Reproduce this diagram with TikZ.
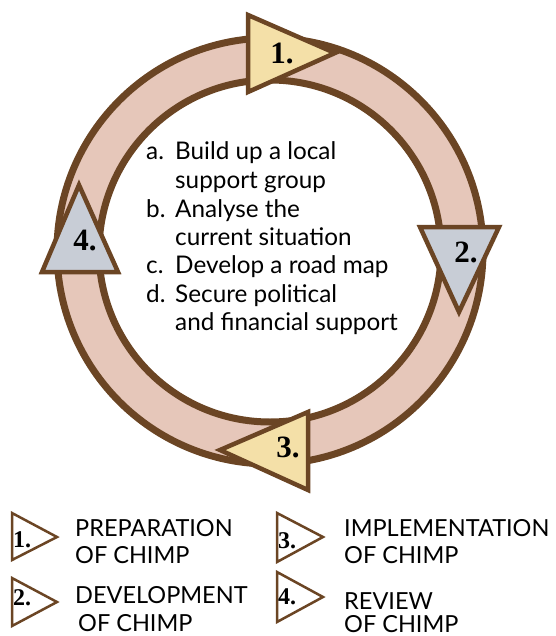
\documentclass[tikz,border=0pt]{standalone}
\usepackage{fontspec}
\setsansfont{Lato}
\renewcommand{\familydefault}{\sfdefault}
\newfontfamily\numfont{Liberation Serif}
\definecolor{ringbrown}{HTML}{6B4524}
\definecolor{ringfill}{HTML}{E6C7BA}
\definecolor{triyellow}{HTML}{F4E0A8}
\definecolor{trigrey}{HTML}{C8CDD6}
\begin{document}
\begin{tikzpicture}[x=1pt,y=-1pt,
  bigtri/.style={draw=ringbrown, line width=4.5pt, line join=miter},
  smalltri/.style={draw=ringbrown, line width=2.5pt, fill=white, line join=miter},
  bignum/.style={font=\numfont\bfseries\fontsize{31}{31}\selectfont, inner sep=0pt},
  smallnum/.style={font=\numfont\bfseries\fontsize{24}{24}\selectfont, inner sep=0pt, anchor=west},
  listtxt/.style={font=\fontsize{24.3}{28}\selectfont, anchor=base west, inner sep=0pt},
  legtxt/.style={font=\fontsize{23.5}{28}\selectfont, anchor=base west, inner sep=0pt}]
\useasboundingbox (0,0) rectangle (555,636);
% ring
\fill[ringfill, even odd rule] (270,251) circle (213pt) (270,251) circle (171pt);
\draw[ringbrown, line width=7pt] (270,251) circle (213pt);
\draw[ringbrown, line width=7pt] (270,251) circle (171pt);
% big triangles
\draw[bigtri, fill=triyellow] (248,15) -- (248,92) -- (335,53) -- cycle;
\node[bignum] (n1) at (282,53) {1.};
\draw[bigtri, fill=trigrey] (420,227) -- (499,227) -- (459,312) -- cycle;
\node[bignum] (n2) at (466,252) {2.};
\draw[bigtri, fill=triyellow] (308,412) -- (308,490) -- (220,450) -- cycle;
\node[bignum] (n3) at (288,447) {3.};
\draw[bigtri, fill=trigrey] (79,185) -- (118,272) -- (42,272) -- cycle;
\node[bignum] (n4) at (85,241) {4.};
% list
\node[listtxt] (la)  at (146,160) {a.};
\node[listtxt] (la1) at (175,160) {Build up a local};
\node[listtxt] (la2) at (175,189) {support group};
\node[listtxt] (lb)  at (146,217) {b.};
\node[listtxt] (lb1) at (175,217) {Analyse the};
\node[listtxt] (lb2) at (175,245) {current situation};
\node[listtxt] (lc)  at (146,273) {c.};
\node[listtxt] (lc1) at (175,273) {Develop a road map};
\node[listtxt] (ld)  at (146,302) {d.};
\node[listtxt] (ld1) at (175,302) {Secure political};
\node[listtxt] (ld2) at (175,330) {and financial support};
% legend
\draw[smalltri] (12,513) -- (12,560) -- (57,537) -- cycle;
\node[smallnum] (k1) at (13,540) {1.};
\node[legtxt] (t1a) at (75,536) {PREPARATION};
\node[legtxt] (t1b) at (75,563) {OF CHIMP};
\draw[smalltri] (12,578) -- (12,626) -- (57,602) -- cycle;
\node[smallnum] (k2) at (13,598) {2.};
\node[legtxt] (t2a) at (75,603) {DEVELOPMENT};
\node[legtxt] (t2b) at (78,631) {OF CHIMP};
\draw[smalltri] (277,513) -- (277,562) -- (323,537) -- cycle;
\node[smallnum] (k3) at (278,541) {3.};
\node[legtxt] (t3a) at (344,536) {IMPLEMENTATION};
\node[legtxt] (t3b) at (344,563) {OF CHIMP};
\draw[smalltri] (277,572) -- (277,622) -- (323,597) -- cycle;
\node[smallnum] (k4) at (278,597) {4.};
\node[legtxt] (t4a) at (344,609) {REVIEW};
\node[legtxt] (t4b) at (344,632) {OF CHIMP};
\end{tikzpicture}
\end{document}
